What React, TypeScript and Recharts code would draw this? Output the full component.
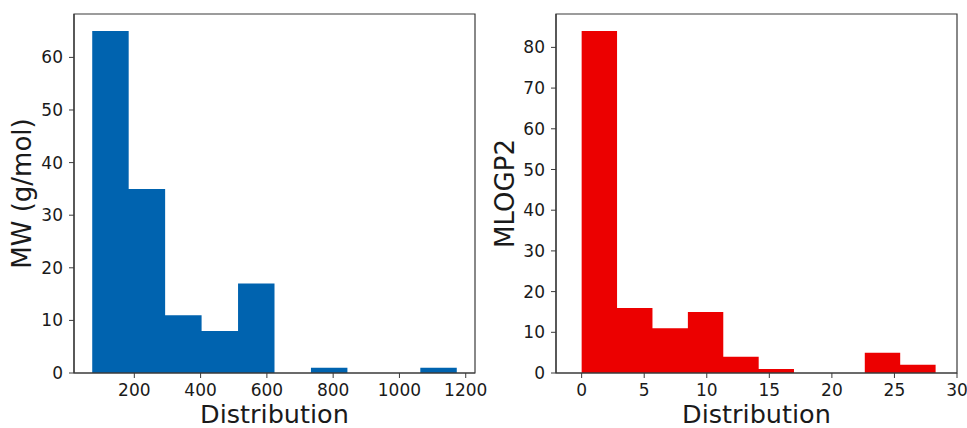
import { AreaChart, Area, XAxis, YAxis, ReferenceArea, Label } from "recharts";

// MW histogram (bin edges + counts)
const mwEdges = [73, 183, 293, 403, 513, 623, 733, 843, 953, 1063, 1173];
const mwCounts = [65, 35, 11, 8, 17, 0, 1, 0, 0, 1];
const mwXTicks = [200, 400, 600, 800, 1000, 1200];
const mwYTicks = [0, 10, 20, 30, 40, 50, 60];

// MLOGP2 histogram
const logpEdges = [0, 2.83, 5.66, 8.49, 11.32, 14.15, 16.97, 19.8, 22.63, 25.46, 28.29];
const logpCounts = [84, 16, 11, 15, 4, 1, 0, 0, 5, 2];
const logpXTicks = [0, 5, 10, 15, 20, 25, 30];
const logpYTicks = [0, 10, 20, 30, 40, 50, 60, 70, 80];

const FONT = "'DejaVu Sans', sans-serif";
const AXIS = "#3a3a3a";
const TEXT = "#1a1a1a";

// stepAfter needs one point per edge; the last edge repeats the last count
const toSteps = (edges: number[], counts: number[]) =>
  edges.map((x, i) => ({ x, y: counts[Math.min(i, counts.length - 1)] }));

type PanelProps = {
  edges: number[];
  counts: number[];
  xDomain: [number, number];
  yDomain: [number, number];
  xTicks: number[];
  yTicks: number[];
  yLabel: string;
  color: string;
  width: number;
  yAxisWidth: number;
  right: number;
  labelOffset: number;
};

function Hist(p: PanelProps) {
  const data = toSteps(p.edges, p.counts);
  const tick = { fontSize: 17, fill: TEXT, fontFamily: FONT };
  return (
    <AreaChart width={p.width} height={428} data={data} margin={{ top: 14, right: p.right, left: 0, bottom: 0 }}>
      <XAxis
        dataKey="x"
        type="number"
        domain={p.xDomain}
        ticks={p.xTicks}
        allowDataOverflow
        height={55}
        tick={tick}
        tickSize={5}
        tickMargin={6}
        axisLine={{ stroke: AXIS, strokeWidth: 1.2 }}
        tickLine={{ stroke: AXIS }}
      >
        <Label value="Distribution" position="insideBottom" offset={5} style={{ fontSize: 25.5, fill: TEXT, fontFamily: FONT }} />
      </XAxis>
      <YAxis
        type="number"
        domain={p.yDomain}
        ticks={p.yTicks}
        allowDataOverflow
        width={p.yAxisWidth}
        tick={tick}
        tickSize={5}
        tickMargin={6}
        axisLine={{ stroke: AXIS, strokeWidth: 1.2 }}
        tickLine={{ stroke: AXIS }}
      >
        <Label
          value={p.yLabel}
          angle={-90}
          position="insideLeft"
          offset={p.labelOffset}
          style={{ fontSize: 26, fill: TEXT, fontFamily: FONT, textAnchor: "middle" }}
        />
      </YAxis>
      <Area
        dataKey="y"
        type="stepAfter"
        fill={p.color}
        fillOpacity={1}
        stroke="none"
        baseValue={0}
        isAnimationActive={false}
      />
      <ReferenceArea
        x1={p.xDomain[0]}
        x2={p.xDomain[1]}
        y1={p.yDomain[0]}
        y2={p.yDomain[1]}
        fill="none"
        stroke={AXIS}
        strokeWidth={1.2}
        ifOverflow="visible"
      />
    </AreaChart>
  );
}

export default function App() {
  return (
    <div style={{ position: "absolute", left: 0, top: 0, width: 967, height: 428, background: "#fff" }}>
      <div style={{ position: "absolute", left: 0, top: 0 }}>
        <Hist
          edges={mwEdges}
          counts={mwCounts}
          xDomain={[18, 1228]}
          yDomain={[0, 68.25]}
          xTicks={mwXTicks}
          yTicks={mwYTicks}
          yLabel="MW (g/mol)"
          color="#0063AF"
          width={490}
          yAxisWidth={74}
          right={15}
          labelOffset={22}
        />
      </div>
      <div style={{ position: "absolute", left: 490, top: 0 }}>
        <Hist
          edges={logpEdges}
          counts={logpCounts}
          xDomain={[-2.05, 30]}
          yDomain={[0, 88.2]}
          xTicks={logpXTicks}
          yTicks={logpYTicks}
          yLabel="MLOGP2"
          color="#EC0000"
          width={477}
          yAxisWidth={66}
          right={10}
          labelOffset={15}
        />
      </div>
    </div>
  );
}
